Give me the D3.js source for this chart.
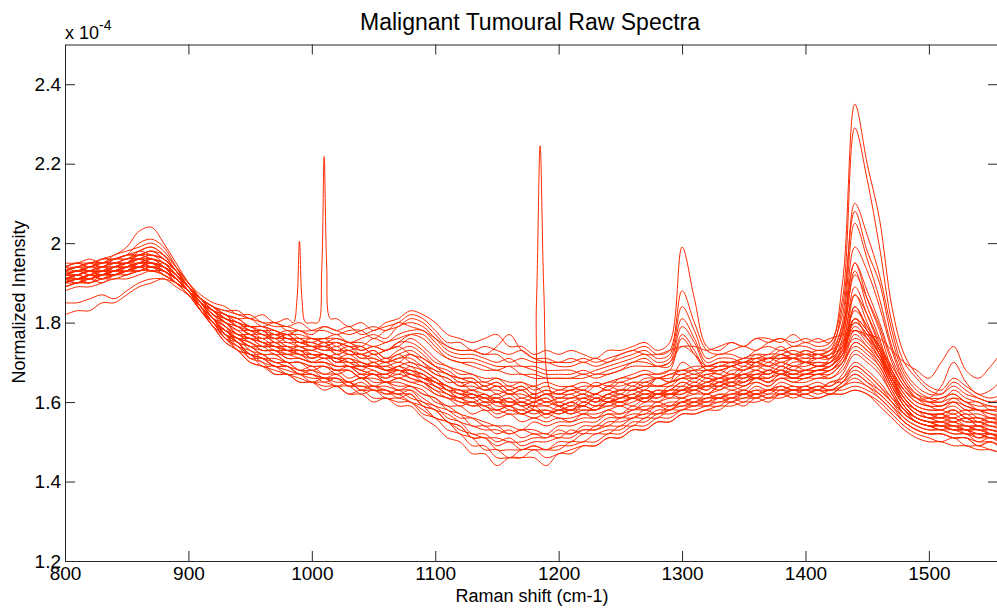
<!DOCTYPE html>
<html><head><meta charset="utf-8">
<script src="https://cdn.jsdelivr.net/npm/d3@7"></script>
<style>body{margin:0;background:#fff}svg{display:block}text{font-family:"Liberation Sans",Arial,sans-serif}</style>
</head><body><svg id="chart" width="997" height="609"></svg>
<script>
// ---- data (intensity in units of 1e-4) ----
const shifts = [800,810,820,830,840,850,860,870,880,890,900,910,920,930,940,950,960,970,980,990,1000,1010,1020,1030,1040,1050,1060,1070,1080,1090,1100,1110,1120,1130,1140,1150,1160,1170,1180,1190,1200,1210,1220,1230,1240,1250,1260,1270,1280,1290,1300,1310,1320,1330,1340,1350,1360,1370,1380,1390,1400,1410,1420,1430,1440,1450,1460,1470,1480,1490,1500,1510,1520,1530,1540,1550,1560];
const xTicks = [800,900,1000,1100,1200,1300,1400,1500];
const yTicks = [1.2,1.4,1.6,1.8,2,2.2,2.4];
const yTickLabels = ["1.2","1.4","1.6","1.8","2","2.2","2.4"];

const spectrum01 = [1.94,1.95,1.94,1.96,1.97,1.99,2.03,2.04,2.00,1.95,1.90, 1.86,1.84,1.83,1.83,1.81,1.82,1.80,1.81,1.79,1.80, 1.80,1.81,1.79,1.80,1.78,1.80,1.81,1.83,1.82,1.80, 1.77,1.76,1.75,1.76,1.77,1.74,1.74,1.72,1.73,1.72, 1.73,1.72,1.71,1.73,1.73,1.74,1.75,1.73,1.75,1.99, 1.86,1.74,1.73,1.75,1.74,1.76,1.76,1.75,1.77,1.75, 1.76,1.75,1.90,2.35,2.20,2.06,1.84,1.72,1.67,1.64, 1.63,1.66,1.64,1.62,1.61,1.62];
const spectrum02 = [1.93,1.94,1.95,1.94,1.96,1.97,2.00,2.01,1.99,1.94,1.89, 1.86,1.84,1.82,1.81,1.81,1.79,1.80,1.78,1.78,1.77, 1.79,1.78,1.79,1.77,1.78,1.79,1.80,1.82,1.81,1.78, 1.75,1.75,1.73,1.74,1.73,1.72,1.73,1.71,1.71,1.70, 1.71,1.70,1.71,1.70,1.72,1.73,1.74,1.72,1.73,1.88, 1.80,1.73,1.72,1.73,1.74,1.73,1.75,1.76,1.74,1.75, 1.74,1.75,1.86,2.29,2.16,1.99,1.80,1.70,1.66,1.63, 1.62,1.64,1.62,1.61,1.60,1.61];
const spectrum03 = [1.95,1.95,1.96,1.95,1.97,1.98,1.99,2.00,1.98,1.94,1.90, 1.87,1.85,1.84,1.82,1.82,1.80,1.80,1.79,1.80,1.78, 1.78,1.77,1.78,1.78,1.76,1.78,1.79,1.81,1.80,1.77, 1.74,1.73,1.73,1.72,1.72,1.70,1.71,1.70,1.70,1.69, 1.69,1.70,1.69,1.70,1.71,1.72,1.73,1.71,1.72,1.84, 1.78,1.71,1.72,1.72,1.71,1.73,1.74,1.73,1.74,1.74, 1.73,1.74,1.82,2.10,2.02,1.92,1.78,1.68,1.64,1.62, 1.62,1.65,1.63,1.61,1.60,1.60];
const spectrum04 = [1.92,1.93,1.92,1.94,1.95,1.95,1.98,1.99,1.97,1.93,1.89, 1.85,1.83,1.81,1.80,1.79,1.79,1.78,1.77,1.78,1.76, 1.76,1.77,1.75,1.76,1.77,1.76,1.79,1.80,1.79,1.76, 1.73,1.72,1.72,1.71,1.70,1.71,1.69,1.69,1.68,1.68, 1.68,1.67,1.68,1.69,1.70,1.71,1.72,1.70,1.71,1.81, 1.76,1.70,1.71,1.71,1.70,1.72,1.72,1.74,1.72,1.73, 1.72,1.73,1.84,2.08,1.98,1.90,1.76,1.67,1.63,1.61, 1.60,1.63,1.61,1.60,1.59,1.59];
const spectrum05 = [1.94,1.93,1.95,1.95,1.96,1.96,1.97,1.98,1.97,1.94,1.90, 1.86,1.83,1.82,1.80,1.79,1.78,1.78,1.76,1.76,1.76, 1.75,1.76,1.75,1.74,1.76,1.75,1.77,1.78,1.78,1.75, 1.72,1.71,1.71,1.70,1.69,1.69,1.69,1.68,1.67,1.67, 1.67,1.68,1.67,1.68,1.69,1.70,1.71,1.69,1.70,1.79, 1.75,1.69,1.70,1.70,1.69,1.71,1.71,1.72,1.73,1.72, 1.72,1.72,1.80,2.05,1.96,1.86,1.74,1.66,1.62,1.60, 1.59,1.61,1.60,1.58,1.58,1.58];
const spectrum06 = [1.91,1.92,1.93,1.92,1.94,1.95,1.96,1.97,1.96,1.93,1.89, 1.85,1.83,1.81,1.80,1.78,1.78,1.76,1.77,1.75,1.75, 1.74,1.75,1.74,1.73,1.74,1.73,1.75,1.77,1.77,1.74, 1.71,1.70,1.70,1.69,1.68,1.69,1.67,1.67,1.66,1.66, 1.66,1.67,1.66,1.67,1.68,1.70,1.70,1.69,1.69,1.77, 1.73,1.68,1.69,1.69,1.68,1.70,1.71,1.71,1.72,1.71, 1.71,1.71,1.78,1.99,1.93,1.84,1.73,1.65,1.61,1.59, 1.58,1.60,1.59,1.58,1.57,1.57];
const spectrum07 = [1.93,1.94,1.93,1.95,1.95,1.96,1.97,1.96,1.95,1.92,1.89, 1.86,1.84,1.83,1.82,1.81,1.80,1.79,1.79,1.78,1.78, 1.79,1.78,1.77,1.78,1.79,1.78,1.80,1.79,1.78,1.76, 1.74,1.73,1.73,1.72,1.74,1.77,1.73,1.71,1.70,1.70, 1.70,1.71,1.70,1.71,1.72,1.73,1.72,1.72,1.73,1.74, 1.74,1.73,1.74,1.75,1.74,1.76,1.75,1.76,1.75,1.76, 1.75,1.76,1.77,1.78,1.77,1.76,1.73,1.70,1.68,1.66, 1.70,1.74,1.68,1.66,1.69,1.73];
const spectrum08 = [1.93,1.92,1.94,1.93,1.93,1.95,1.96,1.94,1.95,1.92,1.89, 1.86,1.82,1.81,1.79,1.77,1.78,1.75,1.76,1.74,1.73, 1.75,1.72,1.73,1.71,1.71,1.70,1.72,1.70,1.69,1.67, 1.66,1.64,1.65,1.63,1.64,1.62,1.63,1.61,1.62,1.61, 1.62,1.60,1.62,1.63,1.62,1.64,1.63,1.66,1.65,1.66, 1.67,1.66,1.68,1.67,1.69,1.68,1.70,1.69,1.71,1.70, 1.69,1.71,1.78,1.95,1.86,1.78,1.68,1.62,1.59,1.58, 1.58,1.57,1.58,1.56,1.56,1.55];
const spectrum09 = [1.90,1.91,1.91,1.92,1.93,1.93,1.95,1.96,1.94,1.92,1.88, 1.85,1.81,1.79,1.76,1.76,1.74,1.74,1.72,1.73,1.71, 1.72,1.70,1.70,1.68,1.70,1.68,1.69,1.68,1.67,1.65, 1.64,1.62,1.63,1.61,1.62,1.60,1.61,1.60,1.61,1.59, 1.60,1.61,1.60,1.61,1.62,1.61,1.63,1.62,1.64,1.64, 1.66,1.65,1.66,1.67,1.66,1.68,1.67,1.69,1.68,1.70, 1.69,1.70,1.76,1.93,1.84,1.76,1.67,1.61,1.58,1.57, 1.57,1.56,1.57,1.55,1.55,1.54];
const spectrum10 = [1.92,1.93,1.93,1.92,1.94,1.94,1.95,1.94,1.93,1.91,1.88, 1.84,1.80,1.78,1.77,1.75,1.74,1.75,1.73,1.72,1.72, 1.71,1.71,1.69,1.69,1.68,1.67,1.69,1.67,1.66,1.65, 1.63,1.61,1.62,1.60,1.61,1.59,1.60,1.59,1.59,1.58, 1.59,1.59,1.61,1.60,1.61,1.62,1.61,1.63,1.62,1.63, 1.65,1.64,1.66,1.65,1.67,1.66,1.68,1.67,1.69,1.68, 1.68,1.69,1.74,1.89,1.82,1.74,1.66,1.60,1.57,1.56, 1.56,1.55,1.56,1.54,1.54,1.53];
const spectrum11 = [1.91,1.90,1.92,1.91,1.92,1.93,1.94,1.93,1.93,1.91,1.88, 1.85,1.83,1.80,1.78,1.78,1.76,1.77,1.75,1.75,1.74, 1.73,1.74,1.72,1.72,1.71,1.70,1.71,1.71,1.69,1.68, 1.65,1.65,1.63,1.64,1.62,1.63,1.61,1.62,1.60,1.61, 1.61,1.62,1.60,1.62,1.63,1.63,1.64,1.64,1.64,1.66, 1.65,1.67,1.67,1.66,1.68,1.69,1.69,1.68,1.70,1.70, 1.70,1.70,1.73,1.87,1.80,1.73,1.66,1.61,1.58,1.57, 1.56,1.58,1.56,1.55,1.56,1.54];
const spectrum12 = [1.93,1.94,1.93,1.93,1.95,1.95,1.96,1.97,1.95,1.92,1.88, 1.85,1.82,1.80,1.78,1.76,1.76,1.74,1.74,1.73,1.73, 1.72,1.71,1.72,1.70,1.69,1.70,1.68,1.68,1.66,1.66, 1.63,1.63,1.61,1.62,1.60,1.60,1.59,1.60,1.58,1.59, 1.58,1.60,1.59,1.60,1.61,1.61,1.62,1.62,1.63,1.63, 1.64,1.64,1.65,1.66,1.66,1.67,1.67,1.68,1.67,1.68, 1.68,1.69,1.72,1.84,1.78,1.72,1.65,1.59,1.56,1.55, 1.55,1.56,1.54,1.54,1.53,1.52];
const spectrum13 = [1.90,1.91,1.90,1.92,1.92,1.93,1.95,1.95,1.94,1.91,1.88, 1.84,1.80,1.78,1.76,1.75,1.73,1.73,1.72,1.72,1.70, 1.70,1.69,1.69,1.68,1.67,1.67,1.68,1.67,1.66,1.64, 1.62,1.61,1.61,1.59,1.60,1.58,1.58,1.57,1.58,1.57, 1.58,1.57,1.59,1.59,1.60,1.59,1.61,1.61,1.62,1.61, 1.63,1.62,1.64,1.65,1.64,1.66,1.66,1.67,1.66,1.67, 1.67,1.68,1.71,1.81,1.76,1.71,1.64,1.59,1.56,1.55, 1.54,1.54,1.53,1.53,1.52,1.52];
const spectrum14 = [1.92,1.92,1.93,1.94,1.94,1.95,1.96,1.96,1.95,1.93,1.89, 1.86,1.84,1.81,1.80,1.78,1.78,1.77,1.77,1.75,1.76, 1.75,1.75,1.74,1.74,1.72,1.73,1.74,1.72,1.71,1.69, 1.67,1.66,1.66,1.64,1.65,1.63,1.64,1.62,1.63,1.62, 1.63,1.63,1.62,1.64,1.64,1.65,1.65,1.66,1.66,1.68, 1.67,1.68,1.68,1.69,1.70,1.70,1.69,1.71,1.71,1.70, 1.72,1.71,1.74,1.78,1.76,1.73,1.68,1.63,1.60,1.59, 1.59,1.60,1.58,1.58,1.57,1.56];
const spectrum15 = [1.91,1.92,1.91,1.93,1.92,1.94,1.95,1.94,1.94,1.92,1.89, 1.85,1.81,1.80,1.77,1.77,1.75,1.75,1.73,1.74,1.72, 1.72,1.71,1.71,1.70,1.69,1.69,1.70,1.69,1.68,1.66, 1.64,1.63,1.62,1.61,1.61,1.60,1.60,1.59,1.60,1.59, 1.60,1.59,1.61,1.60,1.61,1.62,1.63,1.62,1.63,1.65, 1.64,1.65,1.66,1.66,1.67,1.67,1.68,1.67,1.67,1.68, 1.69,1.69,1.72,1.76,1.74,1.71,1.66,1.61,1.58,1.57, 1.56,1.57,1.55,1.55,1.54,1.54];
const spectrum16 = [1.89,1.90,1.91,1.90,1.92,1.93,1.93,1.94,1.93,1.91,1.88, 1.84,1.79,1.77,1.74,1.73,1.71,1.71,1.70,1.70,1.69, 1.69,1.68,1.68,1.66,1.67,1.65,1.66,1.65,1.65,1.62, 1.61,1.59,1.60,1.58,1.58,1.57,1.57,1.56,1.57,1.56, 1.56,1.57,1.57,1.58,1.59,1.58,1.60,1.60,1.61,1.61, 1.62,1.62,1.63,1.64,1.63,1.65,1.64,1.66,1.65,1.66, 1.66,1.67,1.70,1.75,1.73,1.70,1.64,1.59,1.56,1.55, 1.54,1.54,1.53,1.53,1.52,1.51];
const spectrum17 = [1.93,1.93,1.94,1.95,1.95,1.96,1.96,1.95,1.94,1.92,1.89, 1.86,1.84,1.82,1.81,1.79,1.79,1.77,1.78,1.76,1.75, 1.76,1.74,1.75,1.73,1.74,1.73,1.75,1.75,1.73,1.70, 1.69,1.67,1.67,1.65,1.66,1.64,1.65,1.63,1.64,1.63, 1.64,1.63,1.65,1.64,1.66,1.66,1.67,1.67,1.68,1.68, 1.69,1.69,1.70,1.70,1.71,1.71,1.72,1.72,1.71,1.73, 1.72,1.73,1.75,1.81,1.78,1.74,1.69,1.64,1.61,1.60, 1.61,1.62,1.60,1.60,1.58,1.59];
const spectrum18 = [1.90,1.91,1.92,1.91,1.92,1.93,1.94,1.94,1.93,1.91,1.88, 1.84,1.81,1.77,1.76,1.74,1.73,1.73,1.71,1.71,1.70, 1.70,1.69,1.69,1.67,1.68,1.66,1.67,1.66,1.65,1.63, 1.61,1.61,1.59,1.60,1.58,1.59,1.57,1.58,1.57,1.58, 1.57,1.59,1.58,1.60,1.59,1.61,1.60,1.62,1.61,1.63, 1.62,1.64,1.63,1.65,1.65,1.66,1.65,1.67,1.66,1.67, 1.67,1.68,1.70,1.74,1.72,1.69,1.63,1.58,1.55,1.54, 1.53,1.53,1.52,1.52,1.51,1.51];
const spectrum19 = [1.92,1.93,1.94,1.94,1.95,1.95,1.97,1.97,1.96,1.93,1.89, 1.85,1.82,1.80,1.79,1.77,1.77,1.75,1.75,1.74,1.74, 1.73,1.73,1.72,1.72,1.70,1.71,1.70,1.72,1.70,1.68, 1.67,1.65,1.65,1.63,1.64,1.62,1.63,1.61,1.62,1.60, 1.61,1.61,1.62,1.61,1.63,1.63,1.65,1.64,1.65,1.66, 1.66,1.67,1.66,1.68,1.68,1.69,1.68,1.70,1.69,1.70, 1.69,1.70,1.73,1.79,1.76,1.72,1.66,1.61,1.58,1.57, 1.57,1.58,1.56,1.56,1.55,1.55];
const spectrum20 = [1.91,1.92,1.91,1.92,1.93,1.93,1.94,1.95,1.94,1.91,1.88, 1.84,1.80,1.78,1.76,1.76,1.74,1.74,1.73,1.73,1.71, 1.72,1.70,1.71,1.69,1.69,1.68,1.68,1.67,1.67,1.64, 1.63,1.61,1.62,1.60,1.60,1.59,1.60,1.58,1.58,1.57, 1.58,1.58,1.58,1.60,1.60,1.61,1.60,1.62,1.62,1.62, 1.64,1.63,1.65,1.64,1.66,1.66,1.66,1.68,1.67,1.67, 1.68,1.68,1.71,1.78,1.75,1.71,1.65,1.60,1.57,1.56, 1.55,1.55,1.54,1.54,1.53,1.53];
const spectrum21 = [1.94,1.95,1.95,1.96,1.96,1.97,1.97,1.98,1.96,1.93,1.90, 1.86,1.83,1.82,1.79,1.79,1.77,1.77,1.76,1.76,1.74, 1.75,1.73,1.74,1.72,1.73,1.71,1.72,1.73,1.71,1.69, 1.68,1.66,1.66,1.64,1.65,1.63,1.64,1.62,1.63,1.62, 1.63,1.62,1.64,1.63,1.65,1.64,1.66,1.66,1.67,1.67, 1.68,1.68,1.69,1.69,1.70,1.70,1.71,1.71,1.71,1.72, 1.71,1.72,1.74,1.84,1.79,1.74,1.68,1.63,1.60,1.59, 1.59,1.60,1.58,1.58,1.56,1.57];
const spectrum22 = [1.82,1.83,1.83,1.85,1.85,1.87,1.89,1.90,1.91,1.89,1.87, 1.84,1.80,1.77,1.75,1.72,1.71,1.69,1.69,1.67,1.67, 1.65,1.66,1.64,1.64,1.63,1.63,1.61,1.62,1.59,1.58, 1.55,1.54,1.51,1.51,1.49,1.50,1.48,1.49,1.48,1.49, 1.49,1.50,1.50,1.52,1.52,1.54,1.54,1.56,1.56,1.58, 1.58,1.59,1.59,1.61,1.60,1.62,1.61,1.63,1.62,1.63, 1.62,1.63,1.63,1.64,1.63,1.61,1.58,1.55,1.53,1.52, 1.52,1.51,1.51,1.49,1.50,1.48];
const spectrum23 = [1.85,1.85,1.86,1.87,1.86,1.88,1.90,1.91,1.91,1.90,1.88, 1.85,1.81,1.77,1.75,1.71,1.70,1.67,1.67,1.65,1.65, 1.64,1.64,1.62,1.63,1.61,1.61,1.60,1.60,1.57,1.56, 1.53,1.52,1.49,1.49,1.46,1.46,1.46,1.48,1.46,1.47, 1.48,1.49,1.49,1.51,1.51,1.53,1.53,1.55,1.55,1.57, 1.57,1.58,1.59,1.59,1.60,1.60,1.61,1.61,1.62,1.61, 1.61,1.62,1.62,1.63,1.62,1.60,1.57,1.54,1.52,1.51, 1.50,1.51,1.49,1.49,1.48,1.47];
const spectrum24 = [1.89,1.90,1.90,1.91,1.91,1.92,1.93,1.94,1.92,1.90,1.88, 1.84,1.80,1.77,1.73,1.72,1.69,1.69,1.67,1.67,1.65, 1.66,1.64,1.65,1.63,1.63,1.62,1.62,1.60,1.59,1.56, 1.55,1.52,1.51,1.48,1.48,1.46,1.48,1.48,1.48,1.48, 1.50,1.50,1.52,1.52,1.54,1.54,1.56,1.56,1.58,1.58, 1.60,1.59,1.61,1.60,1.62,1.61,1.63,1.62,1.63,1.63, 1.63,1.63,1.64,1.66,1.64,1.62,1.59,1.56,1.54,1.53, 1.53,1.52,1.52,1.50,1.51,1.49];
const spectrum25 = [1.90,1.91,1.92,1.92,1.93,1.93,1.94,1.95,1.93,1.91,1.88, 1.84,1.81,1.77,1.75,1.72,1.71,1.69,1.69,1.67,1.68, 1.66,1.67,1.65,1.66,1.64,1.64,1.63,1.63,1.60,1.59, 1.56,1.55,1.52,1.52,1.50,1.51,1.49,1.50,1.50,1.51, 1.51,1.53,1.53,1.54,1.54,1.56,1.56,1.58,1.58,1.60, 1.59,1.61,1.61,1.62,1.62,1.63,1.63,1.64,1.63,1.64, 1.63,1.65,1.65,1.67,1.65,1.63,1.60,1.57,1.55,1.54, 1.54,1.53,1.53,1.51,1.52,1.50];
const spectrum26 = [1.88,1.89,1.89,1.90,1.91,1.91,1.92,1.93,1.92,1.90,1.87, 1.83,1.79,1.75,1.73,1.70,1.69,1.67,1.67,1.65,1.65, 1.63,1.64,1.62,1.62,1.60,1.61,1.59,1.59,1.56,1.54, 1.51,1.50,1.47,1.47,1.44,1.46,1.46,1.46,1.44,1.47, 1.47,1.49,1.49,1.51,1.51,1.53,1.53,1.55,1.55,1.57, 1.57,1.58,1.58,1.60,1.59,1.61,1.60,1.62,1.61,1.62, 1.61,1.62,1.62,1.63,1.62,1.59,1.56,1.53,1.51,1.50, 1.50,1.49,1.49,1.48,1.48,1.47];
const spectrum27 = [1.91,1.91,1.92,1.93,1.93,1.94,1.94,1.95,1.93,1.91,1.88, 1.84,1.81,1.77,1.76,1.73,1.72,1.70,1.70,1.68,1.69, 1.67,1.68,1.66,1.67,1.65,1.65,1.64,1.64,1.62,1.61, 1.58,1.57,1.54,1.54,1.52,1.53,1.51,1.52,1.51,1.53, 1.52,1.54,1.54,1.56,1.56,1.57,1.57,1.59,1.58,1.60, 1.60,1.61,1.61,1.62,1.62,1.63,1.62,1.64,1.63,1.64, 1.63,1.65,1.66,1.69,1.67,1.64,1.61,1.58,1.56,1.55, 1.55,1.54,1.54,1.53,1.53,1.52];
const spectrum28 = [1.92,1.92,1.93,1.93,1.94,1.94,1.95,1.95,1.94,1.91,1.88, 1.84,1.81,1.79,1.75,1.74,1.72,1.72,1.70,1.70,1.68, 1.69,1.67,1.68,1.66,1.66,1.65,1.65,1.64,1.63,1.60, 1.59,1.57,1.56,1.54,1.54,1.52,1.53,1.52,1.52,1.51, 1.53,1.52,1.54,1.54,1.56,1.56,1.58,1.57,1.59,1.59, 1.60,1.60,1.61,1.61,1.62,1.62,1.63,1.63,1.63,1.63, 1.64,1.63,1.65,1.68,1.66,1.63,1.60,1.57,1.55,1.54, 1.54,1.53,1.53,1.51,1.52,1.50];
const spectrum29 = [1.90,1.90,1.91,1.92,1.92,1.93,1.93,1.94,1.92,1.90,1.87, 1.83,1.80,1.76,1.74,1.71,1.71,1.69,1.69,1.67,1.67, 1.66,1.66,1.64,1.65,1.63,1.63,1.62,1.62,1.59,1.58, 1.55,1.54,1.51,1.51,1.48,1.48,1.48,1.49,1.48,1.50, 1.50,1.52,1.52,1.53,1.53,1.55,1.55,1.57,1.57,1.58, 1.59,1.59,1.60,1.60,1.61,1.61,1.62,1.62,1.63,1.62, 1.63,1.62,1.64,1.65,1.64,1.61,1.58,1.55,1.53,1.52, 1.52,1.51,1.51,1.49,1.50,1.48];
const spectrum30 = [1.93,1.91,1.92,1.94,1.93,1.94,1.96,1.95,1.93,1.91,1.88, 1.85,1.82,1.80,1.77,1.77,1.75,1.74,1.74,1.72,1.72, 1.71,1.72,1.70,1.69,1.70,1.68,1.67,1.69,1.66,1.65, 1.64,1.62,1.62,1.61,1.60,1.61,1.59,1.60,1.61,1.59, 1.60,1.59,1.61,1.60,1.62,1.61,1.63,1.62,1.62,1.64, 1.63,1.65,1.64,1.66,1.65,1.67,1.66,1.68,1.66,1.67, 1.68,1.68,1.72,1.80,1.77,1.72,1.65,1.60,1.58,1.56, 1.57,1.55,1.56,1.54,1.55,1.53];
const spectrum31 = [1.92,1.93,1.92,1.92,1.94,1.95,1.94,1.96,1.94,1.91,1.88, 1.84,1.81,1.78,1.76,1.74,1.74,1.72,1.72,1.71,1.70, 1.70,1.68,1.69,1.67,1.67,1.66,1.68,1.66,1.65,1.64, 1.62,1.61,1.60,1.61,1.59,1.59,1.58,1.59,1.57,1.59, 1.58,1.60,1.59,1.61,1.60,1.61,1.62,1.61,1.63,1.63, 1.64,1.63,1.65,1.64,1.65,1.66,1.65,1.67,1.66,1.66, 1.67,1.66,1.69,1.75,1.73,1.69,1.63,1.58,1.56,1.55, 1.54,1.55,1.53,1.54,1.52,1.52];
const spectrum32 = [1.94,1.94,1.95,1.94,1.96,1.96,1.98,1.97,1.96,1.93,1.89, 1.85,1.83,1.81,1.80,1.78,1.78,1.76,1.77,1.75,1.75, 1.74,1.75,1.73,1.74,1.72,1.73,1.74,1.76,1.74,1.71, 1.69,1.68,1.67,1.66,1.66,1.65,1.65,1.64,1.65,1.64, 1.64,1.65,1.64,1.65,1.66,1.67,1.68,1.67,1.68,1.76, 1.72,1.68,1.68,1.69,1.70,1.69,1.71,1.70,1.71,1.70, 1.71,1.72,1.77,1.92,1.86,1.79,1.70,1.64,1.61,1.60, 1.60,1.61,1.59,1.58,1.58,1.57];
const spectrum33 = [1.91,1.90,1.92,1.91,1.93,1.92,1.94,1.93,1.93,1.90,1.88, 1.83,1.80,1.76,1.75,1.72,1.72,1.70,1.70,1.68,1.68, 1.67,1.67,1.65,1.66,1.64,1.65,1.63,1.64,1.62,1.61, 1.59,1.59,1.57,1.58,1.56,1.57,1.55,1.56,1.55,1.56, 1.55,1.57,1.56,1.58,1.57,1.59,1.58,1.60,1.59,1.61, 1.60,1.62,1.61,1.63,1.62,1.64,1.63,1.65,1.64,1.64, 1.65,1.64,1.67,1.72,1.70,1.67,1.62,1.57,1.55,1.54, 1.53,1.54,1.52,1.52,1.51,1.51];
const spectrum34 = [1.93,1.94,1.94,1.95,1.95,1.95,1.97,1.96,1.95,1.92,1.89, 1.86,1.83,1.80,1.79,1.77,1.76,1.76,1.74,1.74,1.73, 1.74,1.72,1.73,1.71,1.72,1.70,1.71,1.72,1.70,1.67, 1.66,1.64,1.64,1.63,1.63,1.62,1.62,1.61,1.62,1.62, 1.62,1.63,1.62,1.64,1.63,1.65,1.64,1.66,1.65,1.67, 1.66,1.68,1.67,1.69,1.68,1.70,1.69,1.70,1.69,1.69, 1.70,1.70,1.75,1.87,1.82,1.75,1.67,1.62,1.59,1.58, 1.58,1.59,1.57,1.57,1.56,1.56];
const spectrum35 = [1.90,1.91,1.91,1.92,1.92,1.93,1.93,1.94,1.93,1.91,1.88, 1.83,1.79,1.76,1.73,1.72,1.70,1.69,1.68,1.67,1.66, 1.66,1.65,1.65,1.63,1.64,1.62,1.63,1.61,1.60,1.58, 1.57,1.55,1.54,1.53,1.53,1.52,1.53,1.53,1.52,1.54, 1.54,1.55,1.55,1.57,1.56,1.58,1.58,1.59,1.59,1.60, 1.61,1.60,1.62,1.61,1.63,1.62,1.63,1.63,1.64,1.63, 1.64,1.64,1.66,1.70,1.68,1.65,1.61,1.57,1.55,1.54, 1.54,1.53,1.53,1.52,1.52,1.51];
const spectrum36 = [1.92,1.93,1.93,1.93,1.94,1.95,1.95,1.96,1.95,1.92,1.88, 1.85,1.82,1.79,1.77,1.76,1.75,1.73,1.73,1.72,1.71, 1.72,1.70,1.71,1.69,1.69,1.68,1.69,1.70,1.68,1.66, 1.64,1.63,1.63,1.62,1.61,1.62,1.60,1.61,1.60,1.61, 1.61,1.62,1.61,1.62,1.63,1.63,1.64,1.64,1.65,1.70, 1.68,1.66,1.66,1.67,1.67,1.68,1.67,1.69,1.68,1.68, 1.69,1.69,1.73,1.83,1.79,1.73,1.66,1.61,1.58,1.57, 1.57,1.58,1.56,1.56,1.55,1.55];
const spectrum37 = [1.90,1.92,1.91,1.93,1.93,1.94,1.94,1.95,1.94,1.91,1.88, 1.84,1.80,1.78,1.75,1.74,1.72,1.72,1.70,1.70,1.69, 1.69,1.68,1.68,1.66,1.67,1.65,1.66,1.65,1.64,1.62, 1.61,1.60,1.59,1.59,1.57,1.58,1.57,1.58,1.56,1.58, 1.57,1.58,1.58,1.59,1.59,1.60,1.61,1.60,1.62,1.62, 1.63,1.62,1.64,1.63,1.64,1.65,1.64,1.66,1.65,1.65, 1.66,1.66,1.68,1.73,1.71,1.68,1.62,1.58,1.55,1.54, 1.54,1.53,1.53,1.52,1.52,1.50];
const spectrum38 = [1.93,1.94,1.95,1.95,1.96,1.97,1.97,1.98,1.96,1.93,1.89, 1.86,1.83,1.81,1.79,1.78,1.77,1.76,1.76,1.75,1.74, 1.74,1.73,1.73,1.72,1.73,1.71,1.73,1.74,1.72,1.69, 1.67,1.66,1.65,1.65,1.64,1.64,1.63,1.64,1.62,1.63, 1.63,1.64,1.64,1.65,1.65,1.66,1.67,1.66,1.67,1.68, 1.68,1.69,1.69,1.70,1.70,1.71,1.70,1.72,1.71,1.71, 1.72,1.71,1.74,1.80,1.77,1.72,1.67,1.63,1.61,1.61, 1.64,1.70,1.65,1.62,1.63,1.66];
const spectrum39 = [1.91,1.91,1.90,1.92,1.92,1.93,1.94,1.93,1.93,1.90,1.88, 1.83,1.80,1.76,1.74,1.72,1.71,1.70,1.69,1.68,1.67, 1.66,1.66,1.65,1.64,1.64,1.63,1.62,1.63,1.61,1.59, 1.58,1.56,1.56,1.55,1.54,1.54,1.53,1.55,1.54,1.55, 1.55,1.56,1.56,1.57,1.57,1.58,1.59,1.59,1.60,1.60, 1.61,1.61,1.62,1.62,1.63,1.62,1.63,1.64,1.63,1.63, 1.64,1.63,1.65,1.69,1.67,1.64,1.60,1.56,1.54,1.53, 1.53,1.52,1.52,1.51,1.51,1.50];
const spectrum40 = [1.92,1.92,1.93,1.94,1.94,1.94,1.95,1.95,1.94,1.92,1.89, 1.85,1.81,1.79,1.77,1.76,1.75,1.74,1.73,1.73,1.72, 1.72,1.71,1.70,1.70,1.69,1.69,1.68,1.68,1.67,1.65, 1.63,1.62,1.61,1.62,1.60,1.61,1.59,1.60,1.59,1.60, 1.59,1.61,1.60,1.62,1.61,1.63,1.62,1.63,1.63,1.65, 1.64,1.66,1.65,1.66,1.67,1.66,1.68,1.67,1.68,1.67, 1.68,1.69,1.72,1.81,1.78,1.73,1.66,1.60,1.57,1.56, 1.56,1.56,1.55,1.55,1.54,1.53];
const spectrum41 = [1.94,1.95,1.94,1.96,1.96,1.97,1.98,1.99,1.97,1.93,1.89, 1.86,1.84,1.82,1.81,1.79,1.79,1.78,1.77,1.77,1.76, 1.76,1.76,1.75,1.75,1.74,1.75,1.76,1.77,1.76,1.73, 1.71,1.70,1.69,1.68,1.68,1.67,1.67,1.66,1.66,1.66, 1.66,1.66,1.67,1.67,1.68,1.69,1.69,1.69,1.70,1.74, 1.72,1.69,1.70,1.70,1.71,1.72,1.71,1.73,1.72,1.72, 1.73,1.73,1.79,1.95,1.88,1.80,1.71,1.65,1.62,1.61, 1.61,1.62,1.60,1.59,1.59,1.58];
const spectrum42 = [1.91,1.92,1.93,1.92,1.93,1.94,1.95,1.95,1.94,1.91,1.88, 1.84,1.81,1.78,1.76,1.75,1.73,1.73,1.71,1.71,1.70, 1.71,1.69,1.69,1.68,1.67,1.67,1.66,1.67,1.65,1.63, 1.62,1.60,1.60,1.59,1.58,1.59,1.57,1.58,1.57,1.58, 1.58,1.59,1.58,1.60,1.60,1.61,1.61,1.62,1.62,1.63, 1.63,1.64,1.64,1.65,1.64,1.66,1.65,1.66,1.66,1.66, 1.67,1.67,1.70,1.77,1.74,1.70,1.64,1.59,1.56,1.55, 1.55,1.54,1.54,1.53,1.53,1.52];
const spectrum43 = [1.89,1.90,1.90,1.91,1.92,1.92,1.93,1.93,1.92,1.90,1.87, 1.83,1.79,1.75,1.73,1.70,1.69,1.68,1.67,1.66,1.65, 1.65,1.64,1.64,1.62,1.63,1.61,1.61,1.60,1.58,1.56, 1.55,1.53,1.52,1.51,1.51,1.50,1.50,1.51,1.51,1.52, 1.52,1.53,1.53,1.55,1.55,1.56,1.57,1.57,1.58,1.59, 1.59,1.60,1.60,1.61,1.61,1.62,1.61,1.62,1.62,1.62, 1.63,1.62,1.64,1.67,1.65,1.62,1.59,1.55,1.53,1.52, 1.52,1.51,1.51,1.50,1.50,1.49];

// narrow cosmic-ray spikes: points that replace the grid samples inside their span
const spikeSeries = [0, 0, 11];
const spikeShifts = [[985,988,990,992,995],[1005,1008,1010,1012,1015],[1178,1182,1185,1188,1192]];
const spikeValues = [[1.80,1.86,2.005,1.86,1.80],[1.80,1.93,2.218,1.95,1.81],[1.58,1.85,2.245,1.88,1.64]];

const spectra = [spectrum01,spectrum02,spectrum03,spectrum04,spectrum05,spectrum06,spectrum07,spectrum08,spectrum09,spectrum10,
  spectrum11,spectrum12,spectrum13,spectrum14,spectrum15,spectrum16,spectrum17,spectrum18,spectrum19,spectrum20,
  spectrum21,spectrum22,spectrum23,spectrum24,spectrum25,spectrum26,spectrum27,spectrum28,spectrum29,spectrum30,
  spectrum31,spectrum32,spectrum33,spectrum34,spectrum35,spectrum36,spectrum37,spectrum38,spectrum39,spectrum40,
  spectrum41,spectrum42,spectrum43];

// ---- layout ----
const L = 65, R = 998, T = 44.5, B = 561;
const svg = d3.select("#chart");
const x = d3.scaleLinear().domain([800, 1556]).range([L, R]);
const y = d3.scaleLinear().domain([1.2, 2.5]).range([B, T]);

svg.append("defs").append("clipPath").attr("id","plotclip")
  .append("rect").attr("x",L).attr("y",T).attr("width",R-L).attr("height",B-T);

const series = spectra.map((vals, i) => {
  let pts = shifts.map((s, j) => [s, vals[j]]);
  spikeSeries.forEach((si, k) => {
    if (si !== i) return;
    const xs = spikeShifts[k], lo = xs[0], hi = xs[xs.length-1];
    pts = pts.filter(p => p[0] < lo || p[0] > hi);
    xs.forEach((sx, m) => pts.push([sx, spikeValues[k][m]]));
  });
  pts.sort((a,b) => a[0]-b[0]);
  return pts;
});

const line = d3.line().x(d => x(d[0])).y(d => y(d[1])).curve(d3.curveCatmullRom.alpha(0.5));
svg.append("g").attr("clip-path","url(#plotclip)")
  .selectAll("path").data(series).join("path")
  .attr("d", line).attr("fill","none").attr("stroke","#ff2a00")
  .attr("stroke-width",1).attr("stroke-linejoin","round");

// ---- axes ----
const axisColor = "#262626";
function style(g, labels) {
  g.select(".domain").attr("stroke", axisColor);
  g.selectAll(".tick line").attr("stroke", axisColor);
  g.selectAll(".tick text").attr("fill","#000").style("font-size","19px")
    .style("font-family","'Liberation Sans',Arial,sans-serif");
  if (!labels) g.selectAll(".tick text").remove();
}
svg.append("g").attr("transform",`translate(0,${B})`)
  .call(d3.axisBottom(x).tickValues(xTicks).tickSizeInner(-10).tickSizeOuter(0).tickPadding(6).tickFormat(d3.format("d")))
  .call(g => style(g, true));
svg.append("g").attr("transform",`translate(0,${T})`)
  .call(d3.axisTop(x).tickValues(xTicks).tickSizeInner(-10).tickSizeOuter(0))
  .call(g => style(g, false));
svg.append("g").attr("transform",`translate(${L},0)`)
  .call(d3.axisLeft(y).tickValues(yTicks).tickSizeInner(-10).tickSizeOuter(0).tickPadding(4)
    .tickFormat((d,i) => yTickLabels[i]))
  .call(g => style(g, true));
svg.append("g").attr("transform",`translate(${R},0)`)
  .call(d3.axisRight(y).tickValues(yTicks).tickSizeInner(-10).tickSizeOuter(0))
  .call(g => style(g, false));

// ---- texts ----
svg.append("text").attr("x", 530).attr("y", 29.5).attr("text-anchor","middle")
  .style("font-size","23px").attr("fill","#000").text("Malignant Tumoural Raw Spectra");
const mult = svg.append("text").attr("x", 65).attr("y", 39).style("font-size","18px").attr("fill","#000");
mult.append("tspan").text("x 10");
mult.append("tspan").attr("dy", -9).style("font-size","14px").text("-4");
svg.append("text").attr("x", 532).attr("y", 602).attr("text-anchor","middle")
  .style("font-size","18px").attr("fill","#000").text("Raman shift (cm-1)");
svg.append("text").attr("transform","translate(25,302) rotate(-90)").attr("text-anchor","middle")
  .style("font-size","18px").attr("fill","#000").text("Normalized Intensity");
</script></body></html>
